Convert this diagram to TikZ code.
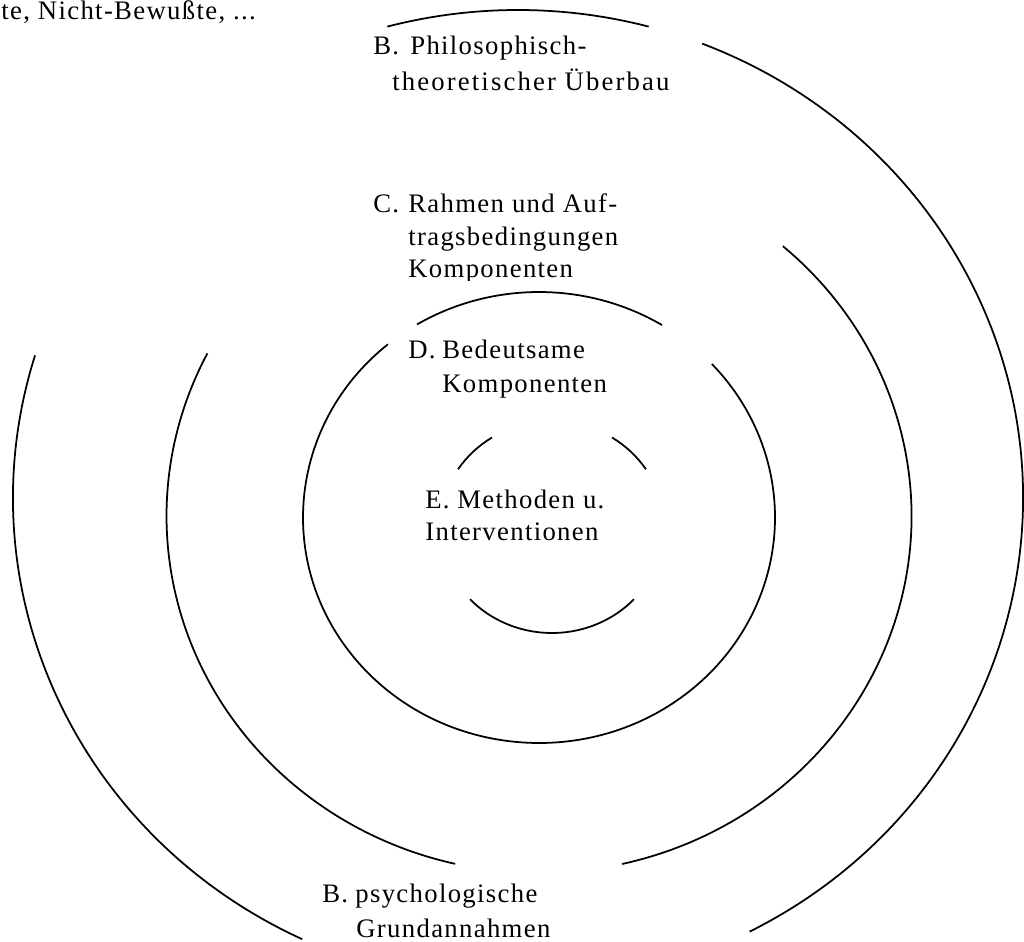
\documentclass[tikz,border=0pt]{standalone}
\usepackage{fontspec}
\setmainfont[LetterSpace=5]{Liberation Serif}

\tikzset{
	ring/.style={line width=1pt},
	lbl/.style={anchor=base west, inner sep=0pt, font=\fontsize{15.2}{18}\selectfont},
}

\begin{document}
\begin{tikzpicture}[x=0.02cm, y=0.02cm]
	\useasboundingbox (0,0) rectangle (1024,-942);

	% outer ring (B)
	\draw [ring] ([shift={(75:505 and 488)}]518,-498) arc [start angle=75, end angle=105, x radius=505, y radius=488];
	\draw [ring] ([shift={(-62.7:505 and 488)}]518,-498) arc [start angle=-62.7, end angle=68.6, x radius=505, y radius=488];
	\draw [ring] ([shift={(163:505 and 488)}]518,-498) arc [start angle=163, end angle=244.7, x radius=505, y radius=488];

	% ring C
	\draw [ring] ([shift={(152.9:372.5 and 357)}]539,-516) arc [start angle=152.9, end angle=257, x radius=372.5, y radius=357];
	\draw [ring] ([shift={(-77.1:372.5 and 357)}]539,-516) arc [start angle=-77.1, end angle=49.1, x radius=372.5, y radius=357];

	% ring D
	\draw [ring] ([shift={(58.6:236 and 225.5)}]539,-517.5) arc [start angle=58.6, end angle=121.1, x radius=236, y radius=225.5];
	\draw [ring] ([shift={(129.8:236 and 225.5)}]539,-517.5) arc [start angle=129.8, end angle=402.9, x radius=236, y radius=225.5];

	% inner ring E
	\draw [ring] ([shift={(33:112 and 106)}]552,-527) arc [start angle=33, end angle=57.6, x radius=112, y radius=106];
	\draw [ring] ([shift={(122.4:112 and 106)}]552,-527) arc [start angle=122.4, end angle=147, x radius=112, y radius=106];
	\draw [ring] ([shift={(223:112 and 106)}]552,-527) arc [start angle=223, end angle=317, x radius=112, y radius=106];

	% labels
	\node [lbl] (unbew) at (1,-20) {te, Nicht-Bewußte, ...};

	\node [lbl] (philoB) at (373,-55) {B.};
	\node [lbl] (philo1) at (410,-55) {Philosophisch-};
	\node [lbl] (philo2) at (392,-91) {\addfontfeature{LetterSpace=8}theoretischer Überbau};

	\node [lbl] (rahmC) at (373,-213) {C.};
	\node [lbl] (rahm1) at (408,-213) {Rahmen und Auf-};
	\node [lbl] (rahm2) at (408,-246) {tragsbedingungen};
	\begin{scope}
		\clip (300,-150) rectangle (700,-281);
		\node [lbl] (rahm3) at (408,-278) {Komponenten};
	\end{scope}

	\node [lbl] (bedD) at (408,-358) {D.};
	\node [lbl] (bed1) at (442,-358) {Bedeutsame};
	\node [lbl] (bed2) at (442,-393) {Komponenten};

	\node [lbl] (methE) at (425,-508) {E.};
	\node [lbl] (meth1) at (457,-508) {Methoden u.};
	\node [lbl] (meth2) at (425,-540) {Interventionen};

	\node [lbl] (psyB) at (322,-902) {B.};
	\node [lbl] (psy1) at (355,-902) {psychologische};
	\node [lbl] (psy2) at (356,-937) {Grundannahmen};
\end{tikzpicture}
\end{document}
